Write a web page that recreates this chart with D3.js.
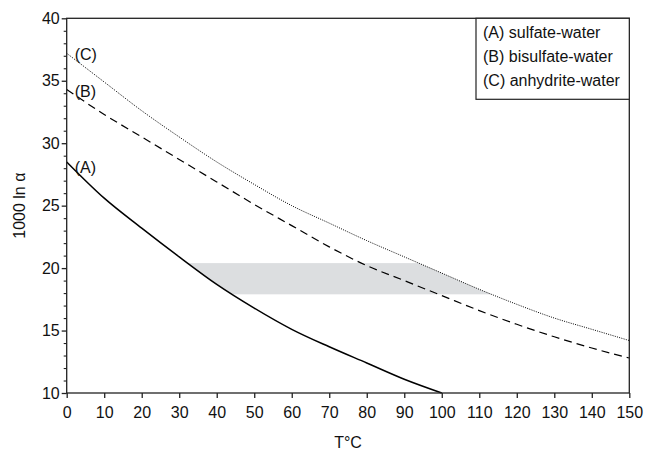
<!DOCTYPE html>
<html>
<head>
<meta charset="utf-8">
<script src="https://cdn.jsdelivr.net/npm/d3@7"></script>
<style>
  html, body { margin: 0; padding: 0; background: #fff; }
  svg text { font-family: "Liberation Sans", Arial, sans-serif; fill: #111; }
</style>
</head>
<body>
<svg id="chart" width="645" height="450"></svg>
<script>
// ---- data ----
const tempA = [0, 10, 20, 30, 40, 50, 60, 70, 80, 90, 100];
const sulfateWater = [28.5, 25.6, 23.2, 20.9, 18.7, 16.8, 15.1, 13.7, 12.4, 11.1, 10.0];

const tempBC = [0, 10, 20, 30, 40, 50, 60, 70, 80, 90, 100, 110, 120, 130, 140, 150];
const bisulfateWater = [34.3, 32.3, 30.5, 28.7, 26.9, 25.1, 23.4, 21.7, 20.2, 19.0, 17.8, 16.6, 15.5, 14.5, 13.6, 12.8];
const anhydriteWater = [37.2, 34.9, 32.6, 30.5, 28.5, 26.7, 25.0, 23.6, 22.2, 20.9, 19.6, 18.3, 17.1, 16.0, 15.1, 14.2];

const bandRange = [17.9, 20.4];
const xTicks = [0, 10, 20, 30, 40, 50, 60, 70, 80, 90, 100, 110, 120, 130, 140, 150];
const yTicks = [10, 15, 20, 25, 30, 35, 40];
const seriesLabels = ["(A)", "(B)", "(C)"];
const legendLabels = ["(A) sulfate-water", "(B) bisulfate-water", "(C) anhydrite-water"];

// ---- layout ----
const W = 645, H = 450;
const m = { left: 66.7, right: 15.7, top: 18.3, bottom: 57 };
const svg = d3.select("#chart");
const x = d3.scaleLinear().domain([0, 150]).range([m.left, W - m.right]);
const y = d3.scaleLinear().domain([10, 40]).range([H - m.bottom, m.top]);

const A = tempA.map((t, i) => [t, sulfateWater[i]]);
const B = tempBC.map((t, i) => [t, bisulfateWater[i]]);
const C = tempBC.map((t, i) => [t, anhydriteWater[i]]);

const line = d3.line().curve(d3.curveMonotoneX).x(d => x(d[0])).y(d => y(d[1]));

// clip region: below C and above A
const clipPath = line(C) + "L" + x(150) + "," + y(10) + "L" + x(tempA[tempA.length - 1]) + "," + y(10)
  + "L" + line(A.slice().reverse()).slice(1) + "Z";
svg.append("clipPath").attr("id", "between").append("path").attr("d", clipPath);

svg.append("rect")
  .attr("clip-path", "url(#between)")
  .attr("x", x(0)).attr("width", x(150) - x(0))
  .attr("y", y(bandRange[1])).attr("height", y(bandRange[0]) - y(bandRange[1]))
  .attr("fill", "#dcdee0");

// curves
svg.append("path").attr("d", line(A)).attr("fill", "none")
  .attr("stroke", "#000").attr("stroke-width", 1.5);
svg.append("path").attr("d", line(B)).attr("fill", "none")
  .attr("stroke", "#000").attr("stroke-width", 1.2).attr("stroke-dasharray", "8,5");
svg.append("path").attr("d", line(C)).attr("fill", "none")
  .attr("stroke", "#000").attr("stroke-width", 1).attr("stroke-dasharray", "1,1.3");

// frame
svg.append("rect")
  .attr("x", x(0)).attr("y", y(40))
  .attr("width", x(150) - x(0)).attr("height", y(10) - y(40))
  .attr("fill", "none").attr("stroke", "#222").attr("stroke-width", 1.3);

// x axis
const xAxis = svg.append("g").attr("transform", `translate(0,${y(10)})`)
  .call(d3.axisBottom(x).tickValues(xTicks).tickSize(5).tickPadding(9).tickFormat(d3.format("d")));
xAxis.select(".domain").remove();
xAxis.selectAll("line").attr("stroke", "#222").attr("stroke-width", 1.3);
xAxis.selectAll("text").style("font-size", "16px").attr("fill", "#111");

// y axis minor ticks
const minor = d3.range(10, 41, 1).filter(v => v % 5 !== 0);
svg.append("g").attr("transform", `translate(${x(0)},0)`)
  .call(d3.axisLeft(y).tickValues(minor).tickSize(3).tickFormat(""))
  .call(g => g.select(".domain").remove())
  .selectAll("line").attr("stroke", "#222").attr("stroke-width", 1.1);

// y axis major
const yAxis = svg.append("g").attr("transform", `translate(${x(0)},0)`)
  .call(d3.axisLeft(y).tickValues(yTicks).tickSize(5).tickPadding(2).tickFormat(d3.format("d")));
yAxis.select(".domain").remove();
yAxis.selectAll("line").attr("stroke", "#222").attr("stroke-width", 1.3);
yAxis.selectAll("text").style("font-size", "16px").attr("fill", "#111");

// axis titles
svg.append("text").attr("x", (x(0) + x(150)) / 2).attr("y", 448)
  .attr("text-anchor", "middle").style("font-size", "16px").text("T°C");
svg.append("text").attr("transform", `translate(25,${(y(10) + y(40)) / 2}) rotate(-90)`)
  .attr("text-anchor", "middle").style("font-size", "16px").text("1000 ln α");

// curve labels
const starts = [A[0], B[0], C[0]];
const labelDy = [11, 8, 7];
seriesLabels.forEach((lab, i) => {
  svg.append("text").attr("x", x(starts[i][0]) + 8).attr("y", y(starts[i][1]) + labelDy[i])
    .style("font-size", "16px").text(lab);
});

// legend
const lg = svg.append("g");
lg.append("rect").attr("x", 476).attr("y", y(40)).attr("width", x(150) - 476).attr("height", 81)
  .attr("fill", "#fff").attr("stroke", "#222").attr("stroke-width", 1.2);
legendLabels.forEach((t, i) => {
  lg.append("text").attr("x", 483).attr("y", 38 + i * 24)
    .style("font-size", "16px").text(t);
});
</script>
</body>
</html>
